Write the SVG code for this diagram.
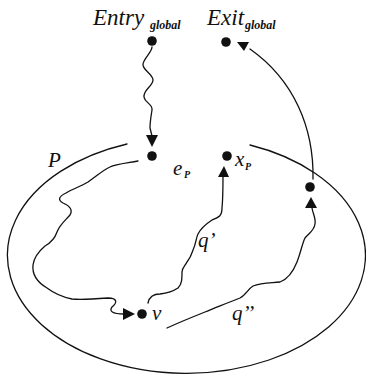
<svg xmlns="http://www.w3.org/2000/svg" width="366" height="379" viewBox="0 0 366 379">
  <style>
    .line { fill: none; stroke: #111; stroke-width: 1.3; stroke-linecap: round; stroke-linejoin: round; }
    .dot { fill: #111; }
    .head { fill: #111; }
    .lbl { font-family: "Liberation Serif", "Times New Roman", serif; font-style: italic; fill: #111; }
    .big { font-size: 23px; }
    .sub { font-size: 12px; font-weight: bold; }
    .mid { font-size: 21px; }
    .idx { font-size: 10px; font-weight: bold; }
  </style>
  <rect width="366" height="379" fill="#fff"/>

  <!-- procedure P: ellipse open at the top between e_P and x_P -->
  <g id="procedure">
    <path class="line" d="M127,144 A179,118 0 1,0 250,145"/>
    <text class="lbl mid" x="48" y="167">P</text>
  </g>

  <g id="connectors">
    <!-- Entry_global to e_P -->
    <path class="line" d="M152,47 C152,52 144,58 143,64 C142,70 153,74 153,80 C153,86 143,90 144,97 C145,103 153,104 152,110 C151,116 150,122 150,128 L152,136"/>
    <polygon class="head" points="146,135 158,135 152,147"/>
    <!-- e_P to v -->
    <path class="line" d="M138,161 C128,163 116,164 110,167 C103,170 97,176 88,182 C80,187 72,189 66,193 C58,197 58,200 63,203 C70,206 73,210 70,215 C66,220 60,224 57,232 C55,238 52,242 45,246 C38,252 34,257 33,265 C32,274 37,282 47,288 C55,294 62,297 72,299 C80,300 95,299 108,298 C118,298 117,303 112,307 C109,311 112,314 124,314"/>
    <polygon class="head" points="123,308 123,320 135,314"/>
    <!-- q': v to x_P -->
    <path class="line" d="M148,303 C149,298 153,294 160,294 C168,293 172,292 178,288 C182,284 182,279 182,272 C182,268 185,266 187,262 C191,257 192,253 193,250 C196,244 196,238 198,234 C201,228 206,224 212,220 C219,217 222,216 222,208 C223,198 223,186 223,176"/>
    <polygon class="head" points="218,177 229,177 224,166"/>
    <!-- q'': v to the return node -->
    <path class="line" d="M167,328 C180,322 195,316 205,312 C220,306 232,301 240,298 C246,295 248,289 253,286 C262,282 272,283 280,282 C288,279 293,272 297,262 C301,252 302,244 305,238 C309,233 314,231 315,224 C316,218 313,214 312,208"/>
    <polygon class="head" points="305,208 317,208 311,197"/>
    <!-- return node to Exit_global -->
    <path class="line" d="M313,179 C314,128 294,80 250,49"/>
    <polygon class="head" points="237,42 249,42 244,51"/>
  </g>

  <g id="entry">
    <circle class="dot" cx="152" cy="41" r="4.8"/>
    <text class="lbl big" x="93" y="25">Entry</text>
    <text class="lbl sub" x="150" y="29">global</text>
  </g>
  <g id="exit">
    <circle class="dot" cx="226" cy="42" r="4.8"/>
    <text class="lbl big" x="207" y="25">Exit</text>
    <text class="lbl sub" x="245" y="29">global</text>
  </g>
  <g id="e_P">
    <circle class="dot" cx="152" cy="156" r="4.8"/>
    <text class="lbl mid" x="173" y="175">e</text>
    <text class="lbl idx" x="184" y="178">P</text>
  </g>
  <g id="x_P">
    <circle class="dot" cx="227" cy="156" r="4.8"/>
    <text class="lbl mid" x="235" y="166">x</text>
    <text class="lbl idx" x="245" y="170">P</text>
  </g>
  <g id="return">
    <circle class="dot" cx="310" cy="187" r="4.8"/>
  </g>
  <g id="v">
    <circle class="dot" cx="142" cy="314" r="4.8"/>
    <text class="lbl mid" x="152" y="320">v</text>
  </g>
  <g id="labels">
    <text class="lbl mid" x="198" y="247">q’</text>
    <text class="lbl mid" x="232" y="320">q’’</text>
  </g>
</svg>
